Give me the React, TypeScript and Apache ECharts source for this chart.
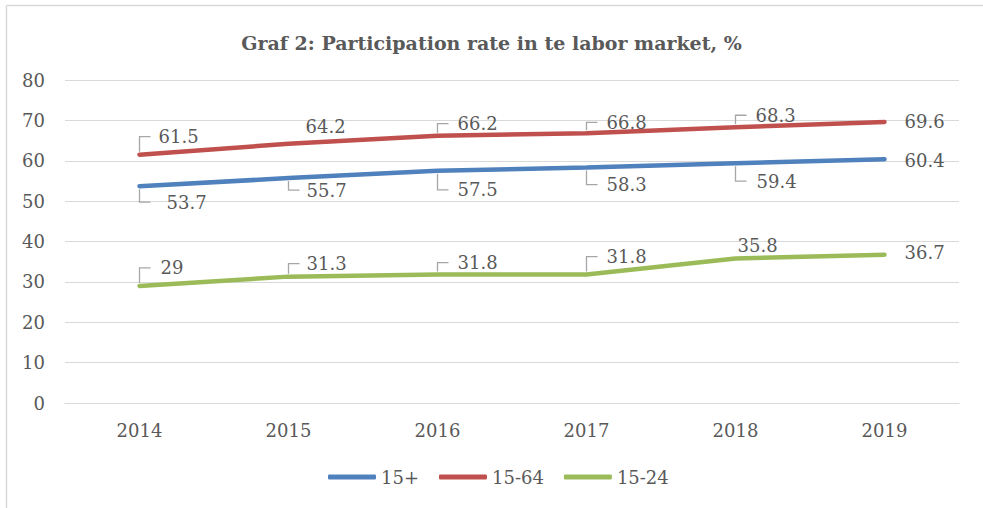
import React, { useEffect, useRef } from "react";
import * as echarts from "echarts";

const years = ["2014", "2015", "2016", "2017", "2018", "2019"];
const s15plus = [53.7, 55.7, 57.5, 58.3, 59.4, 60.4];
const s1564 = [61.5, 64.2, 66.2, 66.8, 68.3, 69.6];
const s1524 = [29, 31.3, 31.8, 31.8, 35.8, 36.7];
const seriesNames = ["15+", "15-64", "15-24"];
const yMin = 0;
const yMax = 80;
const yStep = 10;

// label placement (style only): [dx to text left, dy of text centre, leader line?]
const place15plus = [[27, 16, 1], [18, 12, 1], [20, 19, 1], [20, 17, 1], [21, 18, 1], [20, 1, 0]];
const place1564 = [[19, -18, 1], [17, -17, 0], [20, -12, 1], [20, -11, 1], [20, -12, 1], [20, 0, 0]];
const place1524 = [[21, -18, 1], [18, -13, 1], [20, -12, 1], [20, -18, 1], [2, -13, 0], [20, -2, 0]];

const colors = ["#4F81BD", "#C0504D", "#9BBB59"];
const FONT = "'DejaVu Serif', serif";
const TXT = "#595959";
const GRID = "#d9d9d9";
const FS = 18;

function labelSeries(name: string, values: number[], place: number[][]) {
  return {
    type: "custom",
    name,
    z: 5,
    silent: true,
    data: values.map((v, i) => [i, v]),
    renderItem: (params: any, api: any) => {
      const i = params.dataIndex;
      const val = api.value(1);
      const pt = api.coord([api.value(0), val]);
      const [dx, dy, leader] = place[i];
      const children: any[] = [];
      if (leader) {
        children.push({
          type: "polyline",
          shape: {
            points: [
              [pt[0], pt[1] + (dy > 0 ? 3 : -3)],
              [pt[0], pt[1] + dy],
              [pt[0] + 11, pt[1] + dy],
            ],
          },
          style: { stroke: "#a6a6a6", lineWidth: 1.3, fill: null },
        });
      }
      children.push({
        type: "text",
        x: pt[0] + dx,
        y: pt[1] + dy,
        style: {
          text: String(val),
          fill: TXT,
          fontSize: FS,
          fontFamily: FONT,
          align: "left",
          verticalAlign: "middle",
        },
      });
      return { type: "group", children };
    },
  };
}

export default function App() {
  const ref = useRef<HTMLDivElement>(null);
  useEffect(() => {
    document.body.style.margin = "0";
    if (!ref.current) return;
    const chart = echarts.init(ref.current, null, { renderer: "svg" });
    const lineSeries = [s15plus, s1564, s1524].map((d, k) => ({
      type: "line",
      name: seriesNames[k],
      data: d,
      symbol: "none",
      z: 3,
      lineStyle: { width: 4.5, color: colors[k], cap: "round" },
      itemStyle: { color: colors[k] },
    }));
    chart.setOption({
      animation: false,
      backgroundColor: "#ffffff",
      title: {
        text: "Graf 2: Participation rate in te labor market, %",
        left: "center",
        top: 28,
        textStyle: { fontFamily: FONT, fontSize: 19, fontWeight: "bold", color: TXT },
      },
      graphic: [
        {
          type: "line",
          shape: { x1: 6.5, y1: 5.5, x2: 983, y2: 5.5 },
          style: { stroke: GRID, lineWidth: 1.5 },
          silent: true,
        },
        {
          type: "line",
          shape: { x1: 6.5, y1: 5.5, x2: 6.5, y2: 508 },
          style: { stroke: GRID, lineWidth: 1.5 },
          silent: true,
        },
      ],
      legend: {
        data: seriesNames,
        left: 323,
        top: 463,
        icon: "roundRect",
        itemWidth: 48,
        itemHeight: 5,
        itemGap: 20,
        textStyle: { fontFamily: FONT, fontSize: FS, color: TXT },
      },
      grid: { left: 65, right: 24, top: 80, bottom: 105, containLabel: false },
      xAxis: {
        type: "category",
        data: years,
        boundaryGap: true,
        axisLine: { lineStyle: { color: GRID, width: 1 } },
        axisTick: { show: false },
        axisLabel: { color: TXT, fontFamily: FONT, fontSize: FS, margin: 18 },
      },
      yAxis: {
        type: "value",
        min: yMin,
        max: yMax,
        interval: yStep,
        axisLine: { show: false },
        axisTick: { show: false },
        splitLine: { lineStyle: { color: GRID, width: 1 } },
        axisLabel: { color: TXT, fontFamily: FONT, fontSize: FS, margin: 20 },
      },
      series: [
        ...lineSeries,
        labelSeries("l1", s15plus, place15plus),
        labelSeries("l2", s1564, place1564),
        labelSeries("l3", s1524, place1524),
      ],
    });
    return () => chart.dispose();
  }, []);
  return <div ref={ref} style={{ width: 983, height: 508 }} />;
}
